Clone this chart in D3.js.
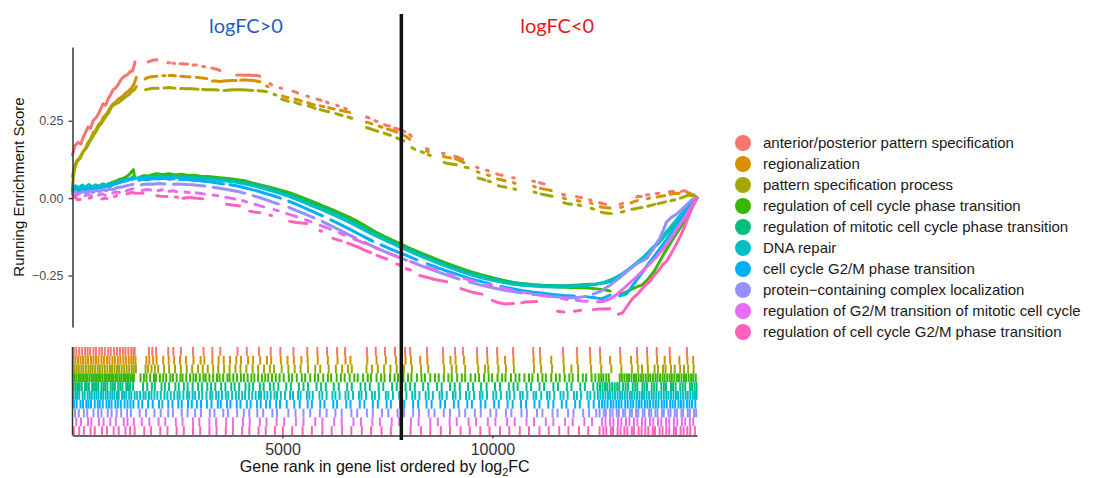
<!DOCTYPE html>
<html>
<head>
<meta charset="utf-8">
<script src="https://cdn.jsdelivr.net/npm/d3@7"></script>
<style>
  body { margin: 0; background: #fff; }
  svg { display: block; font-family: "Liberation Sans", Arial, Helvetica, sans-serif; }
</style>
</head>
<body>
<svg id="chart" width="1094" height="478"></svg>
<script>
// ---- gene sets -------------------------------------------------------------
const setNames = [
  "anterior/posterior pattern specification",
  "regionalization",
  "pattern specification process",
  "regulation of cell cycle phase transition",
  "regulation of mitotic cell cycle phase transition",
  "DNA repair",
  "cell cycle G2/M phase transition",
  "protein\u2212containing complex localization",
  "regulation of G2/M transition of mitotic cell cycle",
  "regulation of cell cycle G2/M phase transition"
];
const setColors = ["#F8766D", "#D89000", "#A3A500", "#39B600", "#00BF7D",
                   "#00BFC4", "#00B0F6", "#9590FF", "#E76BF3", "#FF62BC"];

const geneListSize = 14870;   // number of ranked genes
const zeroCrossRank = 7830;   // rank where log2FC changes sign
const scoreTicks = [0.25, 0, -0.25];
const rankTicks = [5000, 10000];
const sideLabels = ["logFC>0", "logFC<0"];

// ---- running enrichment score, as runs of [rank, score] -------------------
const apScore = [
  [[0,0.14],[60,0.17],[130,0.18],[200,0.175],[250,0.195],[320,0.215],[370,0.23],[430,0.225],[490,0.25],[560,0.26],[610,0.27],[680,0.29],[730,0.305],[790,0.30],[845,0.32],[910,0.335],[965,0.35],[1020,0.355],[1080,0.365],[1140,0.38],[1200,0.39],[1260,0.395],[1320,0.40],[1380,0.41],[1430,0.41],[1460,0.425],[1490,0.44]],
  [[1800,0.44],[1900,0.445],[2010,0.447]],
  [[2270,0.437],[2310,0.437]],
  [[2390,0.436],[2430,0.435]],
  [[2560,0.434],[2620,0.434],[2680,0.433],[2740,0.433]],
  [[2870,0.43],[2950,0.43]],
  [[3100,0.425],[3150,0.424]],
  [[3320,0.42],[3380,0.418],[3450,0.416],[3510,0.412]],
  [[3910,0.398],[4000,0.398],[4100,0.397],[4200,0.398],[4300,0.396],[4400,0.396],[4460,0.394]],
  [[4700,0.37],[4740,0.366]],
  [[4940,0.356],[4980,0.355]],
  [[5250,0.345],[5300,0.343],[5360,0.34]],
  [[5580,0.33],[5620,0.328]],
  [[5820,0.32],[5860,0.318],[5920,0.316]],
  [[6050,0.31],[6090,0.308]],
  [[6290,0.30],[6330,0.298]],
  [[6480,0.29],[6520,0.288]],
  [[7000,0.262],[7060,0.259]],
  [[7200,0.25],[7250,0.248]],
  [[7430,0.237],[7480,0.235],[7550,0.233]],
  [[7670,0.226],[7720,0.224],[7800,0.221],[7910,0.215]],
  [[8030,0.205],[8070,0.2]],
  [[8430,0.16],[8470,0.158]],
  [[8810,0.145],[8850,0.144]],
  [[9100,0.135],[9160,0.133],[9290,0.125]],
  [[9620,0.1],[9660,0.098]],
  [[9860,0.09],[9900,0.088]],
  [[10100,0.078],[10160,0.076],[10230,0.074]],
  [[10480,0.066],[10520,0.065]],
  [[10960,0.055],[11000,0.054]],
  [[11120,0.05],[11160,0.048],[11230,0.046]],
  [[11670,0.012],[11720,0.01]],
  [[12000,0.005],[12060,0.003],[12120,0.002]],
  [[12310,-0.005],[12350,-0.007]],
  [[12550,-0.015],[12620,-0.017],[12700,-0.02]],
  [[13030,-0.02],[13100,-0.017]],
  [[13430,0.004],[13480,0.006],[13540,0.005]],
  [[13670,0.01],[13720,0.011]],
  [[13900,0.015],[13960,0.016]],
  [[14210,0.02],[14260,0.022],[14320,0.021]],
  [[14500,0.022],[14560,0.024],[14620,0.022]],
  [[14800,0.01],[14870,0.0]]
];

const regionalizationScore = [
  [[0,0.07],[40,0.1],[100,0.12],[170,0.13],[250,0.15],[310,0.16],[370,0.18],[430,0.19],[490,0.21],[560,0.22],[610,0.235],[680,0.245],[730,0.26],[800,0.27],[850,0.28],[910,0.295],[965,0.305],[1030,0.31],[1090,0.32],[1150,0.325],[1200,0.33],[1270,0.34],[1330,0.345],[1415,0.357],[1470,0.37],[1520,0.39]],
  [[1730,0.385],[1800,0.39],[1880,0.392],[2010,0.394]],
  [[2150,0.395],[2200,0.395]],
  [[2300,0.396],[2380,0.396],[2450,0.395]],
  [[2580,0.394],[2650,0.393],[2720,0.392],[2800,0.391]],
  [[2950,0.39],[3050,0.389],[3200,0.386]],
  [[3330,0.378],[3400,0.378],[3500,0.377],[3600,0.378],[3700,0.379],[3800,0.38],[3900,0.38]],
  [[4000,0.381],[4100,0.382],[4200,0.381],[4300,0.38],[4460,0.376]],
  [[4620,0.362],[4660,0.36]],
  [[5000,0.33],[5060,0.327],[5130,0.325]],
  [[5300,0.32],[5380,0.317],[5450,0.313]],
  [[5600,0.308],[5680,0.304],[5760,0.301]],
  [[5900,0.298],[5980,0.295]],
  [[6100,0.292],[6150,0.29],[6230,0.288]],
  [[6380,0.284],[6450,0.281],[6600,0.277]],
  [[7000,0.245],[7060,0.243],[7130,0.24]],
  [[7300,0.232],[7370,0.229]],
  [[7500,0.223],[7580,0.22],[7650,0.217],[7720,0.213]],
  [[7850,0.205],[7930,0.2],[8030,0.19]],
  [[8430,0.152],[8470,0.15]],
  [[8830,0.135],[8880,0.133],[9000,0.13]],
  [[9120,0.127],[9200,0.123],[9320,0.115]],
  [[9640,0.085],[9680,0.083]],
  [[9880,0.075],[9930,0.073]],
  [[10120,0.062],[10180,0.06],[10300,0.056]],
  [[10500,0.05],[10540,0.048]],
  [[10980,0.038],[11020,0.036]],
  [[11140,0.032],[11200,0.03],[11400,0.025]],
  [[11690,0.0],[11740,-0.002]],
  [[12020,-0.008],[12080,-0.01]],
  [[12330,-0.015],[12370,-0.017]],
  [[12570,-0.028],[12640,-0.03],[12800,-0.032]],
  [[13050,-0.03],[13100,-0.028]],
  [[13300,-0.015],[13350,-0.012],[13450,-0.008]],
  [[13690,-0.002],[13740,0.0]],
  [[13920,0.004],[14000,0.006],[14100,0.008]],
  [[14230,0.012],[14280,0.014],[14450,0.016]],
  [[14640,0.018],[14700,0.016],[14780,0.01],[14870,0.0]]
];

const patternScore = [
  [[0,0.03],[20,0.07],[60,0.1],[120,0.12],[190,0.13],[250,0.15],[320,0.16],[380,0.175],[440,0.19],[490,0.2],[560,0.215],[620,0.23],[680,0.24],[730,0.25],[800,0.265],[860,0.275],[910,0.29],[965,0.3],[1040,0.305],[1110,0.31],[1200,0.32],[1270,0.328],[1350,0.335],[1415,0.345],[1470,0.35],[1520,0.36]],
  [[1740,0.35],[1800,0.352],[1880,0.354],[1960,0.355],[2040,0.355]],
  [[2180,0.356],[2300,0.357],[2440,0.355]],
  [[2580,0.354],[2720,0.353],[2850,0.353],[2990,0.352]],
  [[3100,0.351],[3220,0.35],[3350,0.35],[3470,0.349]],
  [[3610,0.348],[3740,0.349],[3880,0.35],[4000,0.35],[4140,0.349],[4290,0.348]],
  [[4420,0.347],[4560,0.345],[4620,0.344]],
  [[4800,0.335],[4840,0.333]],
  [[4980,0.32],[5050,0.317],[5140,0.313]],
  [[5290,0.31],[5360,0.306],[5430,0.303]],
  [[5610,0.298],[5700,0.294],[5780,0.29]],
  [[5900,0.286],[6000,0.282],[6100,0.279]],
  [[6270,0.273],[6350,0.27],[6420,0.267]],
  [[6560,0.262],[6650,0.258]],
  [[7000,0.228],[7070,0.225],[7130,0.222],[7270,0.216]],
  [[7420,0.21],[7500,0.206],[7570,0.203]],
  [[7720,0.195],[7800,0.19],[7890,0.185]],
  [[8080,0.163],[8150,0.158]],
  [[8300,0.15],[8360,0.147]],
  [[8470,0.14],[8520,0.138]],
  [[8850,0.115],[8900,0.113],[9030,0.11],[9140,0.108]],
  [[9350,0.1],[9420,0.098]],
  [[9660,0.065],[9740,0.062],[9820,0.058]],
  [[9900,0.055],[9950,0.053]],
  [[10140,0.04],[10200,0.038],[10320,0.035]],
  [[10510,0.03],[10550,0.028]],
  [[10990,0.02],[11040,0.018]],
  [[11160,0.013],[11240,0.011],[11420,0.006]],
  [[11700,-0.015],[11760,-0.017],[11880,-0.02]],
  [[12040,-0.022],[12100,-0.024]],
  [[12350,-0.033],[12410,-0.035]],
  [[12590,-0.045],[12680,-0.048],[12830,-0.05]],
  [[13070,-0.045],[13130,-0.043]],
  [[13320,-0.036],[13400,-0.034],[13470,-0.032],[13560,-0.03]],
  [[13700,-0.026],[13760,-0.024],[13860,-0.02]],
  [[13940,-0.018],[14000,-0.016],[14060,-0.014],[14120,-0.012]],
  [[14250,-0.008],[14340,-0.005]],
  [[14470,0.0],[14560,0.004],[14660,0.01],[14790,0.008],[14870,0.0]]
];

const phaseScore = [
  [[0,0.025],[70,0.032],[140,0.027],[210,0.036],[290,0.03],[360,0.04],[430,0.034],[500,0.031],[570,0.041],[650,0.036],[720,0.046],[800,0.041],[880,0.047],[960,0.052],[1040,0.056],[1120,0.061],[1200,0.063],[1280,0.069],[1350,0.076],[1410,0.086],[1450,0.092],[1480,0.066]],
  [[1600,0.068],[1700,0.073],[1800,0.071],[1900,0.076],[2000,0.079],[2150,0.076],[2300,0.079],[2450,0.075],[2600,0.077],[2750,0.073],[2900,0.074],[3050,0.071],[3200,0.07],[3350,0.068],[3500,0.066],[3650,0.064],[3800,0.062],[3950,0.059],[4100,0.056],[4250,0.05],[4400,0.045],[4550,0.04],[4700,0.035],[4850,0.03],[5000,0.024],[5200,0.016],[5400,0.006],[5600,-0.005],[5800,-0.015],[6000,-0.027],[6200,-0.038],[6400,-0.05],[6600,-0.062],[6800,-0.076],[7000,-0.092],[7200,-0.108],[7400,-0.122],[7600,-0.135],[7800,-0.147],[8000,-0.16],[8250,-0.174],[8500,-0.188],[8750,-0.202],[9000,-0.215],[9250,-0.227],[9500,-0.238],[9750,-0.248],[10000,-0.257],[10250,-0.265],[10500,-0.272],[10750,-0.277],[11000,-0.281],[11250,-0.284],[11500,-0.286],[11750,-0.288],[12000,-0.289],[12250,-0.29],[12500,-0.293],[12700,-0.297],[12800,-0.3]],
  [[13030,-0.31],[13150,-0.305],[13330,-0.293],[13450,-0.286],[13570,-0.28],[13700,-0.262],[13850,-0.236],[13980,-0.205],[14100,-0.175],[14250,-0.142],[14380,-0.115],[14500,-0.09],[14600,-0.068],[14690,-0.045],[14780,-0.022],[14870,0]]
];

const mitoticPhaseScore = [
  [[0,0.02],[80,0.026],[160,0.022],[250,0.03],[330,0.027],[420,0.034],[500,0.03],[590,0.037],[680,0.034],[760,0.041],[850,0.039],[940,0.046],[1020,0.049],[1110,0.053],[1200,0.057],[1290,0.06],[1380,0.064],[1460,0.07]],
  [[1690,0.066],[1800,0.069],[1950,0.071],[2100,0.072],[2250,0.07],[2400,0.072],[2550,0.07],[2700,0.071],[2850,0.069],[3000,0.068],[3150,0.066],[3300,0.065],[3450,0.062],[3600,0.06],[3750,0.058],[3900,0.056],[4050,0.052],[4200,0.048],[4350,0.043],[4500,0.038],[4650,0.033],[4800,0.028],[4950,0.022],[5150,0.013],[5350,0.003],[5550,-0.008],[5750,-0.019],[5950,-0.03],[6150,-0.041],[6350,-0.053],[6550,-0.066],[6750,-0.08],[6950,-0.095],[7150,-0.11],[7350,-0.124],[7550,-0.137],[7750,-0.149],[7950,-0.161],[8200,-0.176],[8450,-0.19],[8700,-0.204],[8950,-0.217],[9200,-0.229],[9450,-0.24],[9700,-0.25],[9950,-0.259],[10200,-0.266],[10450,-0.272],[10700,-0.276],[10950,-0.279],[11200,-0.281],[11450,-0.282],[11700,-0.283],[11950,-0.281],[12200,-0.279],[12450,-0.277],[12650,-0.274],[12850,-0.268],[13000,-0.259],[13190,-0.236],[13400,-0.213],[13570,-0.196],[13780,-0.168],[13980,-0.142],[14180,-0.109],[14380,-0.076],[14570,-0.043],[14760,-0.013],[14870,0]]
];

const dnaRepairScore = [
  [[0,0.035],[70,0.04],[150,0.034],[230,0.042],[310,0.036],[390,0.044],[470,0.037],[550,0.043],[630,0.038],[710,0.045],[790,0.041],[870,0.047],[950,0.044],[1030,0.05],[1110,0.052],[1190,0.055],[1270,0.058],[1350,0.061],[1430,0.063],[1510,0.064],[1600,0.067],[1700,0.065],[1800,0.068],[1950,0.067],[2100,0.069],[2250,0.067],[2400,0.068],[2550,0.066],[2700,0.067],[2850,0.065],[3000,0.064],[3150,0.062],[3300,0.061],[3450,0.058],[3600,0.056],[3750,0.054],[3900,0.051],[4050,0.047],[4200,0.043],[4350,0.038],[4500,0.033],[4650,0.027],[4800,0.021],[4950,0.015],[5150,0.006],[5350,-0.005],[5550,-0.016],[5750,-0.027],[5950,-0.038],[6150,-0.05],[6350,-0.062],[6550,-0.075],[6750,-0.089],[6950,-0.103],[7150,-0.117],[7350,-0.13],[7550,-0.143],[7750,-0.155],[7950,-0.167],[8200,-0.182],[8450,-0.196],[8700,-0.21],[8950,-0.223],[9200,-0.235],[9450,-0.246],[9700,-0.256],[9950,-0.264],[10200,-0.271],[10450,-0.277],[10700,-0.281],[10950,-0.284],[11200,-0.286],[11450,-0.287],[11700,-0.287],[11950,-0.285],[12200,-0.283],[12450,-0.279],[12650,-0.272],[12850,-0.262],[13050,-0.248],[13250,-0.229],[13450,-0.207],[13650,-0.183],[13850,-0.155],[14050,-0.124],[14250,-0.091],[14450,-0.058],[14650,-0.026],[14870,0]]
];

const g2mScore = [
  [[0,0.03],[60,0.037],[130,0.029],[200,0.034],[270,0.025],[350,0.031],[420,0.026],[500,0.033],[580,0.028],[650,0.036],[730,0.032],[810,0.04],[890,0.037],[970,0.044],[1050,0.047],[1130,0.05],[1210,0.054],[1290,0.056],[1370,0.06],[1450,0.062]],
  [[1580,0.058],[1680,0.061],[1800,0.06],[1920,0.063],[2050,0.062],[2180,0.064],[2300,0.061],[2420,0.063]],
  [[2550,0.06],[2700,0.061],[2850,0.058],[3000,0.057],[3150,0.054],[3300,0.052],[3450,0.049],[3600,0.046]],
  [[3750,0.043],[3900,0.04],[4050,0.035],[4200,0.03],[4350,0.025],[4500,0.019],[4650,0.013],[4800,0.007],[4950,0.0]],
  [[5150,-0.01],[5350,-0.021],[5550,-0.033],[5750,-0.045],[5950,-0.057]],
  [[6150,-0.07],[6350,-0.083],[6550,-0.097],[6750,-0.111],[6950,-0.125],[7150,-0.139]],
  [[7350,-0.151],[7550,-0.163],[7750,-0.174],[7950,-0.185],[8200,-0.199]],
  [[8450,-0.212],[8700,-0.225],[8950,-0.237],[9200,-0.248],[9450,-0.259],[9700,-0.268],[9950,-0.277]],
  [[10200,-0.285],[10450,-0.292],[10700,-0.298],[10950,-0.303],[11200,-0.307],[11450,-0.311],[11700,-0.314],[11950,-0.316]],
  [[12200,-0.318],[12450,-0.322],[12600,-0.325],[12800,-0.313]],
  [[13030,-0.315],[13190,-0.31],[13350,-0.28],[13570,-0.24],[13750,-0.205],[13950,-0.17],[14150,-0.132],[14350,-0.093],[14550,-0.055],[14750,-0.018],[14870,0]]
];

const complexLocScore = [
  [[0,0.015],[80,0.021],[160,0.014],[240,0.022],[320,0.017],[400,0.024],[480,0.018],[560,0.026],[640,0.021],[720,0.028],[800,0.024],[880,0.03],[960,0.027],[1040,0.033],[1120,0.035],[1200,0.037],[1280,0.04],[1360,0.042],[1440,0.045]],
  [[1640,0.043],[1780,0.046],[1920,0.045],[2060,0.047],[2200,0.046]],
  [[2400,0.045],[2550,0.046],[2700,0.044],[2850,0.043],[3000,0.041],[3150,0.039]],
  [[3350,0.035],[3500,0.032],[3650,0.029],[3800,0.025],[3950,0.021],[4100,0.016]],
  [[4300,0.008],[4450,0.002],[4600,-0.005],[4750,-0.012],[4900,-0.019]],
  [[5150,-0.03],[5350,-0.041],[5550,-0.052],[5750,-0.064]],
  [[5950,-0.076],[6150,-0.089],[6350,-0.102],[6550,-0.116],[6750,-0.13]],
  [[6950,-0.143],[7150,-0.156],[7350,-0.168],[7550,-0.179],[7750,-0.19],[7950,-0.2]],
  [[8200,-0.213],[8450,-0.226],[8700,-0.238],[8950,-0.25],[9200,-0.261]],
  [[9450,-0.271],[9700,-0.28],[9950,-0.288],[10200,-0.295],[10450,-0.301],[10700,-0.306]],
  [[10950,-0.31],[11200,-0.314],[11450,-0.318],[11700,-0.321],[11950,-0.322],[12200,-0.318]],
  [[12400,-0.31],[12550,-0.302],[12790,-0.282],[13000,-0.26],[13190,-0.238],[13400,-0.215],[13670,-0.195],[13850,-0.16],[13980,-0.13],[14080,-0.1],[14140,-0.078],[14260,-0.062],[14380,-0.052],[14560,-0.03],[14760,-0.004],[14870,0]]
];

const g2mMitoticScore = [
  [[0,0.012],[60,0.006],[140,0.014]],
  [[300,0.008],[380,0.012],[450,0.007]],
  [[620,0.01],[700,0.014],[780,0.009]],
  [[960,0.016],[1040,0.02],[1120,0.018]],
  [[1280,0.024],[1360,0.027],[1440,0.03]],
  [[1660,0.025],[1760,0.028],[1860,0.026]],
  [[2040,0.024],[2140,0.027]],
  [[2300,0.022],[2400,0.024],[2480,0.021]],
  [[2680,0.02],[2780,0.018]],
  [[2950,0.017],[3060,0.015],[3140,0.013]],
  [[3350,0.01],[3460,0.008]],
  [[3650,0.003],[3760,0.0],[3860,-0.003]],
  [[4050,-0.008],[4150,-0.012]],
  [[4350,-0.02],[4450,-0.024],[4550,-0.028]],
  [[4800,-0.037],[4900,-0.041]],
  [[5100,-0.05],[5220,-0.055],[5340,-0.06]],
  [[5550,-0.07],[5680,-0.076]],
  [[5900,-0.088],[6020,-0.094],[6140,-0.1]],
  [[6350,-0.112],[6480,-0.119]],
  [[6700,-0.132],[6830,-0.139],[6960,-0.146]],
  [[7200,-0.159],[7320,-0.166]],
  [[7550,-0.179],[7680,-0.186],[7810,-0.193]],
  [[8050,-0.205],[8180,-0.211]],
  [[8420,-0.222],[8550,-0.228],[8680,-0.234]],
  [[8950,-0.245],[9080,-0.25]],
  [[9320,-0.259],[9450,-0.264],[9580,-0.269]],
  [[9850,-0.278],[9980,-0.282]],
  [[10200,-0.289],[10330,-0.293],[10460,-0.297]],
  [[10750,-0.304],[10880,-0.307]],
  [[11100,-0.312],[11230,-0.315],[11360,-0.318]],
  [[11650,-0.324],[11780,-0.327]],
  [[12000,-0.33],[12130,-0.332],[12260,-0.333]],
  [[12500,-0.335],[12650,-0.333],[12800,-0.325],[12950,-0.312],[13100,-0.295],[13300,-0.27],[13500,-0.245],[13700,-0.218],[13900,-0.19],[14100,-0.158],[14300,-0.12],[14500,-0.078],[14700,-0.035],[14870,0]]
];

const g2mRegScore = [
  [[0,0.0],[60,0.005],[120,-0.005],[180,-0.004]],
  [[400,0.0],[450,0.002]],
  [[700,-0.003],[780,0.0],[820,-0.002]],
  [[1000,0.005],[1050,0.008]],
  [[1300,0.014],[1420,0.018],[1500,0.016],[1680,0.016]],
  [[2010,0.008],[2100,0.006],[2250,0.005]],
  [[2450,0.004],[2500,0.003]],
  [[2630,0.0],[2800,0.002],[2950,0.0],[3100,-0.002]],
  [[3670,-0.02],[3800,-0.022],[3980,-0.025]],
  [[4220,-0.042],[4330,-0.045],[4460,-0.047]],
  [[4700,-0.055],[4740,-0.056]],
  [[5170,-0.075],[5300,-0.078],[5450,-0.08],[5580,-0.082]],
  [[5890,-0.105],[5930,-0.107]],
  [[6200,-0.13],[6300,-0.134],[6400,-0.138]],
  [[6550,-0.145],[6650,-0.15],[6800,-0.158],[6950,-0.168],[7100,-0.176]],
  [[7250,-0.185],[7350,-0.19],[7480,-0.196]],
  [[7720,-0.213],[7800,-0.216]],
  [[7950,-0.228],[8050,-0.232]],
  [[8270,-0.25],[8450,-0.256],[8600,-0.262],[8910,-0.27]],
  [[9250,-0.292],[9380,-0.298],[9550,-0.305],[9750,-0.31]],
  [[10000,-0.33],[10150,-0.338],[10300,-0.342],[10500,-0.34]],
  [[10700,-0.338],[10800,-0.335],[11050,-0.334]],
  [[11550,-0.365],[11700,-0.368]],
  [[11950,-0.365],[12100,-0.362]],
  [[12400,-0.36],[12550,-0.358],[12790,-0.357]],
  [[13000,-0.375],[13100,-0.37],[13200,-0.35],[13330,-0.325],[13450,-0.31],[13550,-0.295],[13650,-0.28],[13740,-0.27],[13850,-0.25],[13950,-0.235],[14050,-0.215],[14140,-0.205],[14250,-0.18],[14350,-0.155],[14450,-0.13],[14550,-0.1],[14650,-0.065],[14760,-0.03],[14870,0.0]]
];

// ---- ranks of gene-set members in the ordered gene list -------------------
const apHits = [30,90,160,230,300,360,420,500,560,640,700,770,850,910,990,1060,1130,1200,1260,1330,1400,1450,1480,1820,1900,1990,2280,2400,2580,2870,3120,3330,3520,3930,4150,4440,4720,4950,5260,5590,5830,6060,6300,6490,7010,7220,7440,7680,7920,8040,8440,8820,9110,9300,9630,9870,10110,10490,10970,11130,11680,12010,12320,12560,13040,13440,13680,13910,14220,14630];

const regionalizationHits = [20,70,130,190,250,310,370,440,500,560,620,690,750,820,880,950,1010,1080,1140,1210,1270,1340,1400,1450,1500,1760,1830,1920,2000,2160,2290,2420,2560,2700,2880,3050,3140,3330,3480,3600,3750,3900,4010,4180,4300,4470,4630,4730,4960,5120,5270,5450,5600,5840,6080,6310,6500,6620,7020,7240,7460,7700,7930,8060,8280,8450,8830,9000,9120,9320,9640,9880,10120,10300,10500,10980,11140,11400,11690,12020,12330,12570,12800,13050,13300,13450,13690,13920,14100,14230,14450,14640,14780];

const patternHits = [10,50,100,150,210,260,320,380,430,480,540,600,650,710,770,830,890,940,1000,1060,1110,1170,1230,1290,1350,1410,1460,1510,1740,1800,1880,1960,2040,2180,2300,2440,2580,2720,2850,2990,3100,3220,3350,3470,3610,3740,3880,4000,4140,4290,4420,4560,4700,4800,4980,5140,5290,5430,5610,5780,5900,6100,6270,6420,6560,6650,7000,7130,7270,7420,7570,7720,7890,8080,8300,8470,8850,9030,9140,9350,9660,9820,9900,10140,10320,10510,10990,11160,11420,11700,11880,12040,12350,12590,12830,13070,13320,13470,13560,13700,13860,13940,14060,14120,14250,14340,14470,14560,14660,14790];

const phaseHits = [10,50,90,140,180,230,270,320,350,400,450,490,540,580,630,660,710,760,800,850,890,940,980,1030,1070,1120,1160,1210,1250,1300,1340,1390,1430,1460,1620,1700,1760,1850,1940,1990,2080,2160,2230,2330,2390,2480,2570,2620,2710,2800,2880,2940,3030,3120,3170,3260,3350,3440,3500,3590,3690,3740,3830,3920,4010,4080,4170,4260,4330,4420,4510,4590,4660,4750,4840,4930,5030,5150,5230,5340,5460,5540,5660,5770,5850,5970,6080,6160,6290,6390,6480,6600,6710,6790,6920,7030,7110,7240,7350,7430,7560,7670,7750,7880,7990,8070,8200,8310,8390,8520,8630,8720,8840,8950,9030,9160,9270,9350,9480,9590,9680,9800,9910,9990,10120,10230,10310,10440,10550,10640,10760,10870,10950,11080,11190,11270,11400,11510,11600,11720,11830,11910,12040,12150,12230,12360,12450,12530,12590,12640,12710,12770,13030,13080,13140,13200,13250,13310,13370,13420,13480,13540,13590,13650,13710,13760,13820,13880,13930,13990,14050,14100,14160,14220,14270,14330,14390,14440,14500,14560,14610,14670,14730,14780,14840];

const mitoticPhaseHits = [30,80,130,170,220,300,340,390,470,510,560,610,690,740,780,830,910,960,1010,1090,1140,1190,1280,1320,1370,1440,1680,1780,1890,1960,2120,2200,2300,2450,2530,2650,2740,2860,2990,3080,3210,3300,3400,3540,3640,3780,3860,3970,4120,4210,4300,4460,4550,4700,4790,4900,5090,5200,5390,5500,5610,5810,5920,6030,6220,6340,6540,6650,6860,6970,7080,7290,7400,7610,7720,7930,8040,8150,8350,8470,8680,8790,8990,9100,9220,9420,9540,9730,9860,10060,10180,10390,10500,10600,10810,10920,11120,11230,11450,11560,11770,11880,12090,12200,12400,12500,12560,12620,12680,12730,12790,12850,12910,12970,13020,13110,13170,13230,13340,13400,13450,13570,13620,13680,13790,13850,13910,14020,14080,14130,14250,14300,14360,14470,14530,14590,14700,14750,14810,14860];

const dnaRepairHits = [20,70,110,160,240,290,360,410,460,520,570,620,680,730,790,840,900,950,1000,1060,1100,1180,1230,1280,1350,1400,1480,1540,1610,1690,1740,1820,1880,1950,2020,2100,2190,2260,2340,2420,2500,2550,2640,2730,2780,2860,2920,3010,3090,3190,3280,3330,3420,3480,3560,3650,3710,3800,3890,3960,4040,4110,4200,4280,4360,4440,4490,4570,4640,4720,4810,4870,4960,5060,5180,5250,5370,5430,5580,5640,5720,5880,5950,6050,6190,6260,6360,6500,6570,6680,6820,6880,6990,7130,7200,7300,7460,7520,7630,7780,7840,7950,8090,8160,8260,8410,8480,8580,8740,8800,8910,9060,9120,9230,9370,9450,9560,9700,9760,9870,10020,10090,10200,10340,10410,10520,10660,10720,10830,10980,11040,11160,11300,11360,11470,11620,11690,11790,11940,12010,12110,12260,12330,12430,12510,12570,12630,12690,12750,12800,12860,12920,12980,13040,13090,13150,13210,13270,13320,13380,13440,13500,13560,13610,13670,13730,13790,13840,13900,13960,14020,14080,14140,14190,14250,14310,14370,14420,14480,14540,14600,14650,14710,14770,14820,14860];

const g2mHits = [40,100,190,250,330,380,440,530,600,650,720,810,870,930,1020,1080,1150,1240,1310,1380,1450,1570,1660,1800,1910,2060,2140,2280,2380,2520,2600,2750,2840,2960,3060,3200,3310,3460,3530,3680,3760,3910,4000,4150,4240,4390,4480,4610,4700,4850,4940,5100,5280,5410,5600,5700,5900,6000,6210,6300,6520,6620,6840,6950,7150,7270,7480,7580,7800,7900,8110,8230,8430,8550,8760,8870,9080,9190,9400,9510,9720,9830,10040,10150,10360,10480,10680,10800,11000,11120,11330,11450,11650,11760,11970,12080,12290,12410,12540,12610,12670,12740,12820,12880,12950,13010,13070,13160,13220,13290,13350,13430,13490,13550,13630,13690,13750,13830,13890,13950,14030,14090,14150,14230,14290,14350,14430,14490,14550,14630,14690,14750,14830];

const complexLocHits = [60,150,270,350,500,610,690,840,930,1050,1160,1300,1390,1600,1750,1950,2100,2280,2390,2600,2740,2920,3060,3270,3380,3590,3700,3920,4080,4210,4400,4540,4760,4870,5140,5310,5500,5660,5890,6050,6260,6410,6640,6780,7010,7150,7370,7520,7740,7890,8110,8250,8480,8620,8840,8990,9210,9350,9580,9720,9950,10090,10320,10450,10690,10820,11060,11190,11430,11550,11800,11930,12160,12300,12470,12550,12650,12700,12800,12860,12960,13010,13110,13160,13270,13320,13420,13470,13580,13620,13730,13780,13880,13930,14040,14080,14190,14240,14340,14390,14500,14540,14650,14700,14800,14850];

const g2mMitoticHits = [90,200,370,450,630,740,900,1030,1220,1310,1460,1650,1830,2050,2210,2460,2620,2870,3020,3260,3420,3660,3820,4060,4220,4460,4620,4860,5040,5320,5500,5780,5950,6230,6410,6690,6870,7140,7320,7600,7780,8060,8240,8520,8700,8980,9150,9430,9610,9890,10070,10350,10530,10810,10990,11270,11450,11730,11910,12190,12370,12610,12690,12800,12880,12990,13070,13180,13260,13370,13450,13560,13640,13750,13830,13940,14020,14130,14210,14320,14400,14510,14590,14700,14780];

const g2mRegHits = [30,160,270,430,530,700,820,980,1100,1260,1370,1480,1710,1870,2090,2260,2480,2650,2870,3040,3260,3430,3650,3820,4040,4210,4430,4600,4820,5010,5230,5480,5700,5950,6170,6420,6640,6890,7110,7360,7580,7830,8050,8300,8520,8770,8990,9240,9460,9710,9930,10180,10400,10650,10870,11120,11340,11590,11810,12060,12280,12550,12640,12710,12820,12870,12980,13050,13140,13210,13320,13370,13480,13550,13640,13710,13820,13870,13980,14050,14140,14210,14320,14370,14480,14550,14640,14710,14820];

const scoreRuns = [apScore, regionalizationScore, patternScore, phaseScore, mitoticPhaseScore,
                   dnaRepairScore, g2mScore, complexLocScore, g2mMitoticScore, g2mRegScore];
const hitRanks = [apHits, regionalizationHits, patternHits, phaseHits, mitoticPhaseHits,
                  dnaRepairHits, g2mHits, complexLocHits, g2mMitoticHits, g2mRegHits];

const sets = setNames.map((name, i) => ({
  name, color: setColors[i], runs: scoreRuns[i], hits: hitRanks[i]
}));

// ---- layout ----------------------------------------------------------------
const svg = d3.select("#chart");
const plotLeft = 72.5, plotRight = 697;
const esTop = 47, esBottom = 327;
const rugTop = 347, rugBottom = 435.5;
const axisColor = "#333";

const x = d3.scaleLinear().domain([0, geneListSize]).range([plotLeft, plotRight]);

// score range padded by 5% on each side
const allScores = scoreRuns.flat(2).map(d => d[1]);
const [sMin, sMax] = d3.extent(allScores);
const pad = (sMax - sMin) * 0.05;
const y = d3.scaleLinear().domain([sMin - pad, sMax + pad]).range([esBottom, esTop]);

const rowY = d3.scaleLinear().domain([0, sets.length]).range([rugTop, rugBottom - 0.5]);

// ---- running enrichment score panel ---------------------------------------
const line = d3.line().x(d => x(d[0])).y(d => y(d[1]));

const esLayer = svg.append("g");
sets.forEach(s => {
  const g = esLayer.append("g");
  g.selectAll("path")
    .data(s.runs.filter(r => r.length > 1))
    .join("path")
    .attr("d", line)
    .attr("fill", "none")
    .attr("stroke", s.color)
    .attr("stroke-width", 3)
    .attr("stroke-linecap", "round")
    .attr("stroke-linejoin", "round");
  g.selectAll("circle")
    .data(s.runs.filter(r => r.length === 1).map(r => r[0]))
    .join("circle")
    .attr("cx", d => x(d[0]))
    .attr("cy", d => y(d[1]))
    .attr("r", 1.6)
    .attr("fill", s.color);
});

const yAxis = d3.axisLeft(y)
  .tickValues(scoreTicks)
  .tickFormat(d3.format(".2f"))
  .tickSize(4)
  .tickSizeOuter(0)
  .tickPadding(5);

const yAxisG = svg.append("g")
  .attr("transform", `translate(${plotLeft},0)`)
  .call(yAxis);
yAxisG.select(".domain").attr("stroke", axisColor).attr("stroke-width", 1.5);
yAxisG.selectAll(".tick line").attr("stroke", axisColor).attr("stroke-width", 1.2);
yAxisG.selectAll(".tick text")
  .attr("fill", "#4d4d4d")
  .style("font-size", "12.5px")
  .style("font-family", "'Liberation Sans', Arial, sans-serif");

svg.append("text")
  .attr("transform", `translate(24,${(esTop + esBottom) / 2}) rotate(-90)`)
  .attr("text-anchor", "middle")
  .attr("fill", "#111")
  .style("font-size", "15px")
  .text("Running Enrichment Score");

// ---- hit rug panel ---------------------------------------------------------
const rug = svg.append("g");
sets.forEach((s, i) => {
  rug.append("g").selectAll("line")
    .data(s.hits)
    .join("line")
    .attr("x1", d => x(d)).attr("x2", d => x(d))
    .attr("y1", rowY(i)).attr("y2", rowY(i + 1))
    .attr("stroke", s.color)
    .attr("stroke-width", 2);
});

svg.append("line")
  .attr("x1", plotLeft).attr("x2", plotLeft)
  .attr("y1", rugTop).attr("y2", rugBottom)
  .attr("stroke", axisColor).attr("stroke-width", 1.5);

const xAxis = d3.axisBottom(x)
  .tickValues(rankTicks)
  .tickFormat(d3.format("d"))
  .tickSize(3)
  .tickSizeOuter(0)
  .tickPadding(5);

const xAxisG = svg.append("g")
  .attr("transform", `translate(0,${rugBottom})`)
  .call(xAxis);
xAxisG.select(".domain").attr("stroke", axisColor).attr("stroke-width", 1.5);
xAxisG.selectAll(".tick line").attr("stroke", axisColor).attr("stroke-width", 1.2);
xAxisG.selectAll(".tick text")
  .attr("fill", "#333")
  .style("font-size", "16px")
  .style("font-family", "'Liberation Sans', Arial, sans-serif");

const xTitle = svg.append("text")
  .attr("x", (plotLeft + plotRight) / 2)
  .attr("y", 472)
  .attr("text-anchor", "middle")
  .attr("fill", "#111")
  .style("font-size", "16px");
xTitle.append("tspan").text("Gene rank in gene list ordered by log");
xTitle.append("tspan").attr("dy", 4).style("font-size", "11px").text("2");
xTitle.append("tspan").attr("dy", -4).text("FC");

// ---- logFC sign divider and side labels -----------------------------------
svg.append("line")
  .attr("x1", x(zeroCrossRank)).attr("x2", x(zeroCrossRank))
  .attr("y1", 14).attr("y2", 440)
  .attr("stroke", "#111")
  .attr("stroke-width", 3.5);

const sideColors = ["#1f5fc0", "#e3191c"];
const sideCenters = [(x(0) + x(zeroCrossRank)) / 2 + 9, (x(zeroCrossRank) + x(geneListSize)) / 2 + 8];
sideLabels.forEach((t, i) => {
  svg.append("text")
    .attr("x", sideCenters[i])
    .attr("y", 33)
    .attr("text-anchor", "middle")
    .attr("fill", sideColors[i])
    .style("font-family", "Lato, 'Open Sans', sans-serif")
    .style("font-size", "20px")
    .text(t);
});

// ---- legend ----------------------------------------------------------------
const legend = svg.append("g").attr("transform", "translate(743,143)");
const item = legend.selectAll("g")
  .data(sets)
  .join("g")
  .attr("transform", (d, i) => `translate(0,${i * 21})`);
item.append("circle")
  .attr("r", 8)
  .attr("fill", d => d.color);
item.append("text")
  .attr("x", 20)
  .attr("dy", "0.35em")
  .attr("fill", "#1a1a1a")
  .style("font-size", "15px")
  .text(d => d.name);
</script>
</body>
</html>
